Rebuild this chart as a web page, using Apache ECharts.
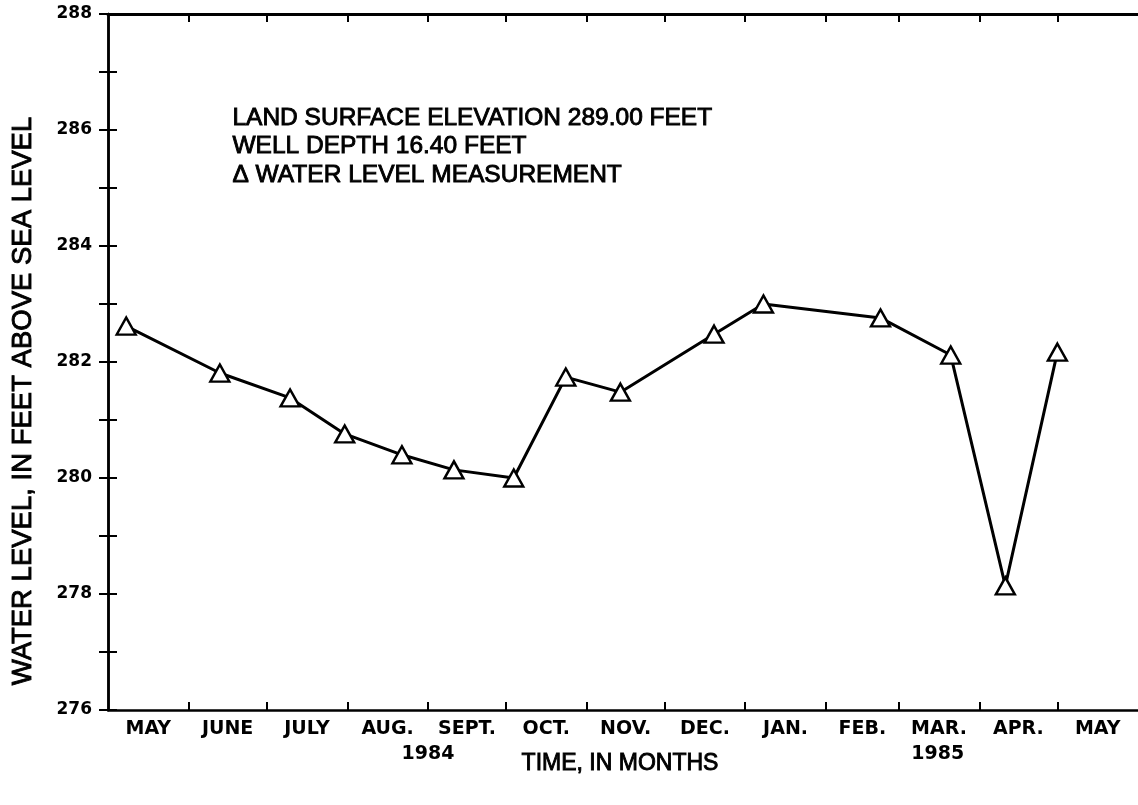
<!DOCTYPE html>
<html>
<head>
<meta charset="utf-8">
<script src="https://cdn.jsdelivr.net/npm/echarts@6/dist/echarts.min.js"></script>
<style>
  html, body { margin: 0; padding: 0; background: #fff; }
  #chart { width: 1138px; height: 805px; }
</style>
</head>
<body>
<div id="chart"></div>
<script>
// ---- data ----
const measureDates = ['1984-05-08','1984-06-13','1984-07-10','1984-07-31','1984-08-22','1984-09-11','1984-10-04','1984-10-24','1984-11-14','1984-12-20','1985-01-08','1985-02-22','1985-03-21','1985-04-11','1985-05-01'];
const waterLevels = [282.62, 281.81, 281.38, 280.76, 280.40, 280.14, 280.00, 281.74, 281.48, 282.48, 283.00, 282.76, 282.12, 278.14, 282.17];
const monthStarts = ['1984-05-01','1984-06-01','1984-07-01','1984-08-01','1984-09-01','1984-10-01','1984-11-01','1984-12-01','1985-01-01','1985-02-01','1985-03-01','1985-04-01','1985-05-01','1985-06-01'];
const monthLabels = ['MAY','JUNE','JULY','AUG.','SEPT.','OCT.','NOV.','DEC.','JAN.','FEB.','MAR.','APR.','MAY'];
const yearLabels = ['1984','1985'];
const yearDates = ['1984-09-01','1985-03-16'];
const yTickLabels = ['276','278','280','282','284','286','288'];
const annotationLines = ['LAND SURFACE ELEVATION 289.00 FEET','WELL DEPTH 16.40 FEET','\u0394 WATER LEVEL MEASUREMENT'];
const yTitle = 'WATER LEVEL, IN FEET ABOVE SEA LEVEL';
const xTitle = 'TIME, IN MONTHS';

// ---- helpers ----
const DAY = 86400000;
const origin = Date.UTC(1984, 4, 1);
function dayOf(s) { const p = s.split('-').map(Number); return (Date.UTC(p[0], p[1]-1, p[2]) - origin) / DAY; }

const seriesData = measureDates.map((d, i) => [dayOf(d), waterLevels[i]]);
const tickVals = monthStarts.map(dayOf);
const labelText = {};
const labelVals = [];
for (let i = 0; i < monthLabels.length; i++) {
  const mid = (tickVals[i] + tickVals[i+1]) / 2;
  labelVals.push(mid);
  labelText[mid] = monthLabels[i];
}
yearDates.forEach((d, i) => {
  const v = dayOf(d) + 0.01;
  labelVals.push(v);
  labelText[v] = '\n' + yearLabels[i];
});

const xMin = tickVals[0], xMax = tickVals[tickVals.length - 1];
const FONT = 'DejaVu Sans';
const TFONT = 'Liberation Sans';

const chart = echarts.init(document.getElementById('chart'), null, { renderer: 'canvas' });
const axisLineStyle = { color: '#000', width: 2.5 };
chart.setOption({
  backgroundColor: '#fff',
  animation: false,
  grid: { left: 108, top: 14, width: 1035, height: 696, containLabel: false },
  xAxis: [
    {
      type: 'value', position: 'bottom', min: xMin, max: xMax,
      axisLine: { show: true, lineStyle: axisLineStyle },
      axisTick: { show: true, inside: true, length: 8, lineStyle: { color: '#000', width: 2 }, customValues: tickVals.slice(1, -1) },
      axisLabel: {
        show: true, customValues: labelVals, margin: 7,
        formatter: v => labelText[v] !== undefined ? labelText[v] : '',
        fontFamily: FONT, fontWeight: 'bold', fontSize: 19, color: '#000', lineHeight: 25
      },
      splitLine: { show: false }
    },
    {
      type: 'value', position: 'top', min: xMin, max: xMax,
      axisLine: { show: true, lineStyle: { color: '#000', width: 3 } },
      axisTick: { show: true, inside: true, length: 8, lineStyle: { color: '#000', width: 2 }, customValues: tickVals.slice(1, -1) },
      axisLabel: { show: false },
      splitLine: { show: false }
    }
  ],
  yAxis: [
    {
      type: 'value', position: 'left', min: 276, max: 288, interval: 1,
      axisLine: { show: true, lineStyle: axisLineStyle },
      axisTick: { show: true, inside: true, length: 9, lineStyle: { color: '#000', width: 2 } },
      axisLabel: {
        show: true, margin: 16, fontFamily: FONT, fontWeight: 'bold', fontSize: 17, color: '#000',
        formatter: v => yTickLabels.indexOf(String(v)) >= 0 ? String(v) : ''
      },
      splitLine: { show: false }
    },
    {
      type: 'value', position: 'right', min: 276, max: 288, interval: 1,
      axisLine: { show: true, lineStyle: axisLineStyle },
      axisTick: { show: true, inside: true, length: 9, lineStyle: { color: '#000', width: 2 } },
      axisLabel: { show: false },
      splitLine: { show: false }
    }
  ],
  series: [{
    type: 'line',
    xAxisIndex: 0, yAxisIndex: 0,
    data: seriesData,
    symbol: 'triangle',
    symbolSize: [19, 17],
    showAllSymbol: true,
    lineStyle: { color: '#000', width: 3 },
    itemStyle: { color: '#fff', borderColor: '#000', borderWidth: 2.4 },
    z: 3
  }],
  graphic: [
    ...annotationLines.map((t, i) => ({
      type: 'text', left: 232, top: 105 + i * 28.5,
      style: { text: t, fontFamily: TFONT, fontSize: 24.5, fill: '#000', stroke: '#000', lineWidth: 0.9 }
    })),
    {
      type: 'text', x: 23, y: 401, rotation: Math.PI / 2,
      style: { text: yTitle, fontFamily: TFONT, fontSize: 27.5, fill: '#000', stroke: '#000', lineWidth: 0.9, align: 'center', verticalAlign: 'middle' }
    },
    {
      type: 'text', x: 620, y: 764,
      style: { text: xTitle, fontFamily: TFONT, fontSize: 23, fill: '#000', stroke: '#000', lineWidth: 0.9, align: 'center', verticalAlign: 'middle' }
    }
  ]
});
</script>
</body>
</html>
